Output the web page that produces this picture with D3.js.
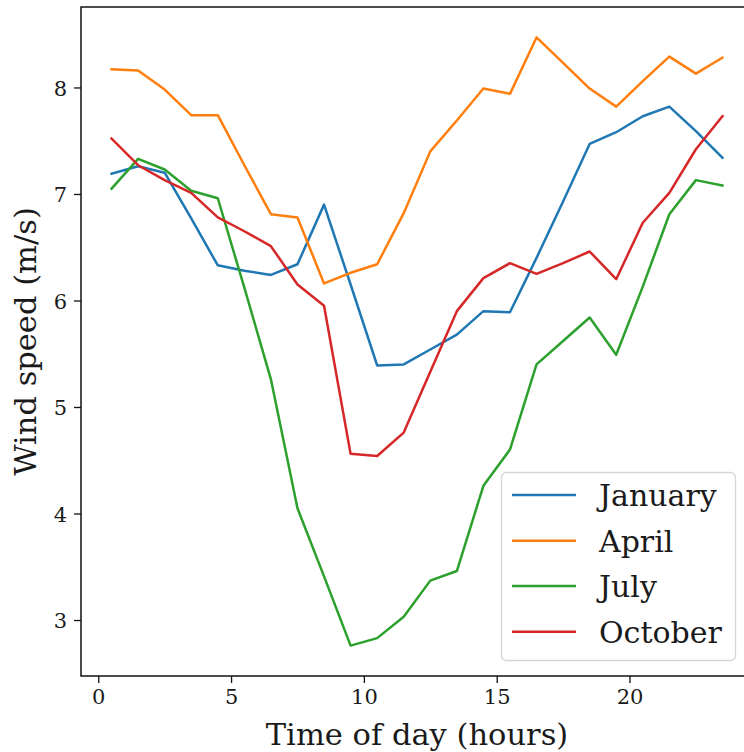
<!DOCTYPE html>
<html>
<head>
<meta charset="utf-8">
<script src="https://cdn.jsdelivr.net/npm/d3@7"></script>
<style>
  html, body { margin: 0; padding: 0; background: #fff; }
  svg { display: block; }
  text { font-family: "DejaVu Serif", serif; fill: #1a1a1a; }
</style>
</head>
<body>
<svg id="chart" width="744" height="752"></svg>
<script>
const hours = [0.5,1.5,2.5,3.5,4.5,5.5,6.5,7.5,8.5,9.5,10.5,11.5,12.5,13.5,14.5,15.5,16.5,17.5,18.5,19.5,20.5,21.5,22.5,23.5];
const january = [7.19,7.26,7.20,6.77,6.33,6.28,6.24,6.34,6.90,6.15,5.39,5.40,5.54,5.68,5.90,5.89,6.40,6.93,7.47,7.58,7.73,7.82,7.59,7.34];
const april   = [8.17,8.16,7.98,7.74,7.74,7.27,6.81,6.78,6.16,6.26,6.34,6.82,7.40,7.69,7.99,7.94,8.47,8.23,7.99,7.82,8.06,8.29,8.13,8.28];
const july    = [7.05,7.33,7.23,7.03,6.96,6.12,5.26,4.05,3.41,2.76,2.83,3.03,3.37,3.46,4.26,4.60,5.40,5.62,5.84,5.49,6.13,6.81,7.13,7.08];
const october = [7.52,7.27,7.13,7.01,6.78,6.65,6.51,6.15,5.95,4.56,4.54,4.76,5.33,5.90,6.21,6.35,6.25,6.35,6.46,6.20,6.73,7.01,7.42,7.73];
const seriesNames = ["January","April","July","October"];
const seriesColors = ["#1f77b4","#ff7f0e","#2ca02c","#d62728"];
const xTicks = [0,5,10,15,20];
const yTicks = [3,4,5,6,7,8];
const xLabel = "Time of day (hours)";
const yLabel = "Wind speed (m/s)";

const seriesValues = [january, april, july, october];
const series = seriesNames.map((name, i) => ({
  name, color: seriesColors[i],
  points: hours.map((h, j) => [h, seriesValues[i][j]])
}));

const svg = d3.select("#chart");
const L = 81, R = 753, T = 7, B = 676;

// matplotlib-like 5% margins
const xMin = d3.min(hours), xMax = d3.max(hours), xPad = (xMax - xMin) * 0.05;
const allVals = seriesValues.flat();
const yMin = d3.min(allVals), yMax = d3.max(allVals), yPad = (yMax - yMin) * 0.05;

const x = d3.scaleLinear().domain([xMin - xPad, xMax + xPad]).range([L, R]);
const y = d3.scaleLinear().domain([yMin - yPad, yMax + yPad]).range([B, T]);

// lines
const line = d3.line().x(d => x(d[0])).y(d => y(d[1]));
const plot = svg.append("g");
series.forEach(s => {
  plot.append("path")
    .attr("d", line(s.points))
    .attr("fill", "none")
    .attr("stroke", s.color)
    .attr("stroke-width", 2.5)
    .attr("stroke-linejoin", "round")
    .attr("stroke-linecap", "square");
});

// spines
svg.append("rect")
  .attr("x", L).attr("y", T)
  .attr("width", R - L).attr("height", B - T)
  .attr("fill", "none").attr("stroke", "#111").attr("stroke-width", 1.5);

// axes
const xAxis = d3.axisBottom(x).tickValues(xTicks).tickSize(7).tickPadding(6).tickFormat(d3.format("d"));
const yAxis = d3.axisLeft(y).tickValues(yTicks).tickSize(7).tickPadding(7).tickFormat(d3.format("d"));

const gx = svg.append("g").attr("transform", `translate(0,${B})`).call(xAxis);
const gy = svg.append("g").attr("transform", `translate(${L},0)`).call(yAxis);
[gx, gy].forEach(g => {
  g.select(".domain").remove();
  g.selectAll(".tick line").attr("stroke", "#111").attr("stroke-width", 1.3);
  g.selectAll(".tick text").attr("font-family", "DejaVu Serif").attr("font-size", 21).attr("fill", "#1a1a1a");
});
gy.selectAll(".tick text").attr("dy", "0.36em");

// axis labels
svg.append("text")
  .attr("x", (L + R) / 2).attr("y", 745)
  .attr("text-anchor", "middle")
  .attr("font-size", 30.5)
  .text(xLabel);

svg.append("text")
  .attr("transform", `translate(36,${(T + B) / 2}) rotate(-90)`)
  .attr("text-anchor", "middle")
  .attr("font-size", 30.5)
  .text(yLabel);

// legend
const lg = svg.append("g");
lg.append("rect")
  .attr("x", 501.5).attr("y", 472.5)
  .attr("width", 234).attr("height", 188)
  .attr("rx", 5).attr("ry", 5)
  .attr("fill", "#fff").attr("fill-opacity", 0.85)
  .attr("stroke", "#d6d6d6").attr("stroke-width", 1.3);
const rowY = [495, 540.7, 586, 631.7];
series.forEach((s, i) => {
  lg.append("line")
    .attr("x1", 512).attr("x2", 576)
    .attr("y1", rowY[i]).attr("y2", rowY[i])
    .attr("stroke", s.color).attr("stroke-width", 2.5);
  lg.append("text")
    .attr("x", 599).attr("y", rowY[i] + 11)
    .attr("font-size", 30)
    .text(s.name);
});
</script>
</body>
</html>
